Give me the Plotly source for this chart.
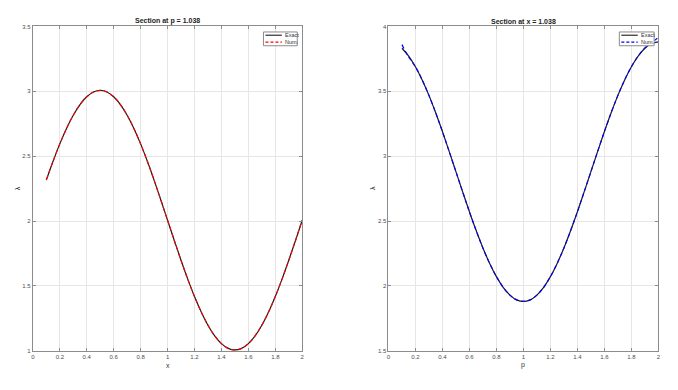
import plotly.graph_objects as go

# ---- data ----
x_vals = [0.10, 0.15, 0.20, 0.25, 0.30, 0.35, 0.40, 0.45, 0.50, 0.55, 0.60, 0.65, 0.70,
          0.75, 0.80, 0.85, 0.90, 0.95, 1.00, 1.05, 1.10, 1.15, 1.20, 1.25, 1.30, 1.35,
          1.40, 1.45, 1.50, 1.55, 1.60, 1.65, 1.70, 1.75, 1.80, 1.85, 1.90, 1.95, 2.00]
lam_x_exact = [2.316, 2.461, 2.595, 2.714, 2.816, 2.898, 2.958, 2.995, 3.007, 2.995, 2.958,
               2.898, 2.816, 2.714, 2.595, 2.461, 2.316, 2.163, 2.007, 1.851, 1.698, 1.553,
               1.419, 1.300, 1.198, 1.116, 1.056, 1.019, 1.007, 1.019, 1.056, 1.116, 1.198,
               1.300, 1.419, 1.553, 1.698, 1.851, 2.007]
lam_x_num = [2.318, 2.461, 2.595, 2.714, 2.816, 2.898, 2.958, 2.995, 3.007, 2.995, 2.958,
             2.898, 2.816, 2.714, 2.595, 2.461, 2.316, 2.163, 2.007, 1.851, 1.698, 1.553,
             1.419, 1.300, 1.198, 1.116, 1.056, 1.019, 1.007, 1.019, 1.056, 1.116, 1.198,
             1.300, 1.419, 1.553, 1.698, 1.851, 2.009]

p_vals = [0.10, 0.15, 0.20, 0.25, 0.30, 0.35, 0.40, 0.45, 0.50, 0.55, 0.60, 0.65, 0.70,
          0.75, 0.80, 0.85, 0.90, 0.95, 1.00, 1.05, 1.10, 1.15, 1.20, 1.25, 1.30, 1.35,
          1.40, 1.45, 1.50, 1.55, 1.60, 1.65, 1.70, 1.75, 1.80, 1.85, 1.90, 1.95, 2.00]
lam_p_exact = [3.832, 3.772, 3.690, 3.588, 3.469, 3.335, 3.190, 3.037, 2.881, 2.725, 2.572,
               2.427, 2.293, 2.174, 2.072, 1.990, 1.930, 1.893, 1.881, 1.893, 1.930, 1.990,
               2.072, 2.174, 2.293, 2.427, 2.572, 2.725, 2.881, 3.037, 3.190, 3.335, 3.469,
               3.588, 3.690, 3.772, 3.832, 3.869, 3.881]
lam_p_num = [3.860, 3.765, 3.690, 3.588, 3.469, 3.335, 3.190, 3.037, 2.881, 2.725, 2.572,
             2.427, 2.293, 2.174, 2.072, 1.990, 1.930, 1.893, 1.881, 1.893, 1.930, 1.990,
             2.072, 2.174, 2.293, 2.427, 2.572, 2.725, 2.881, 3.037, 3.190, 3.335, 3.469,
             3.588, 3.690, 3.772, 3.835, 3.875, 3.915]

x_ticks = [0, 0.2, 0.4, 0.6, 0.8, 1, 1.2, 1.4, 1.6, 1.8, 2]
x_tick_text = ["0", "0.2", "0.4", "0.6", "0.8", "1", "1.2", "1.4", "1.6", "1.8", "2"]
y1_ticks = [1, 1.5, 2, 2.5, 3, 3.5]
y1_tick_text = ["1", "1.5", "2", "2.5", "3", "3.5"]
y2_ticks = [1.5, 2, 2.5, 3, 3.5, 4]
y2_tick_text = ["1.5", "2", "2.5", "3", "3.5", "4"]

titles = ["Section at p = 1.038", "Section at x = 1.038"]
xlabels = ["x", "p"]
legend_names = ["Exact", "Num."]
num_colors = ["red", "blue"]

# page body has an 8px margin; the figure is placed at (8, 8)
OFF = 8
W, H = 670, 382
FONT = "Liberation Sans, Arial, sans-serif"
TICKC = "#4d4d4d"
FRAME = "#8c8c8c"
DASH = "4px,3px"


def xp(px):
    return (px - OFF) / W


def yp(py):
    return 1 - (py - OFF) / H


fig = go.Figure()

fig.add_trace(go.Scatter(x=x_vals, y=lam_x_exact, mode="lines", name=legend_names[0],
                         line=dict(color="#1a1a1a", width=1.2, shape="spline"),
                         xaxis="x", yaxis="y"))
fig.add_trace(go.Scatter(x=x_vals, y=lam_x_num, mode="lines", name=legend_names[1],
                         line=dict(color=num_colors[0], width=1.2, dash=DASH, shape="spline"),
                         xaxis="x", yaxis="y"))
fig.add_trace(go.Scatter(x=p_vals, y=lam_p_exact, mode="lines", name=legend_names[0],
                         line=dict(color="#1a1a1a", width=1.2, shape="spline"),
                         xaxis="x2", yaxis="y2"))
fig.add_trace(go.Scatter(x=p_vals, y=lam_p_num, mode="lines", name=legend_names[1],
                         line=dict(color=num_colors[1], width=1.2, dash=DASH, shape="spline"),
                         xaxis="x2", yaxis="y2"))

dom_y = [yp(353.3), yp(23.7)]
dom_x1 = [xp(31), xp(302)]
dom_x2 = [xp(388.7), xp(660.3)]


def axis_common():
    return dict(showgrid=True, gridcolor="#e6e6e6", gridwidth=1, zeroline=False,
                showline=True, linecolor=FRAME, linewidth=1, mirror="ticks",
                ticks="inside", ticklen=3, tickcolor=FRAME,
                tickfont=dict(size=6, color=TICKC, family=FONT))


fig.update_layout(
    width=W, height=H,
    margin=dict(l=0, r=0, t=0, b=0),
    paper_bgcolor="white", plot_bgcolor="white",
    font=dict(family=FONT),
    showlegend=False,
    xaxis=dict(domain=dom_x1, anchor="y", range=[0, 2], tickvals=x_ticks, ticktext=x_tick_text,
               **axis_common()),
    yaxis=dict(domain=dom_y, anchor="x", range=[1, 3.5], tickvals=y1_ticks, ticktext=y1_tick_text,
               **axis_common()),
    xaxis2=dict(domain=dom_x2, anchor="y2", range=[0, 2], tickvals=x_ticks, ticktext=x_tick_text,
                **axis_common()),
    yaxis2=dict(domain=dom_y, anchor="x2", range=[1.5, 4], tickvals=y2_ticks, ticktext=y2_tick_text,
                **axis_common()),
)

ann = []
shapes = []
for dom, t in zip([dom_x1, dom_x2], titles):
    ann.append(dict(x=(dom[0] + dom[1]) / 2, y=yp(18.5), xref="paper", yref="paper",
                    text="<b>" + t + "</b>", showarrow=False,
                    font=dict(size=7, color="#222222", family=FONT),
                    xanchor="center", yanchor="middle"))
for dom, t in zip([dom_x1, dom_x2], xlabels):
    ann.append(dict(x=(dom[0] + dom[1]) / 2, y=yp(368), xref="paper", yref="paper", text=t,
                    showarrow=False, font=dict(size=7, color="#333333", family=FONT),
                    xanchor="center", yanchor="middle"))
for px in [15, 372]:
    ann.append(dict(x=xp(px), y=yp(188), xref="paper", yref="paper", text="λ",
                    showarrow=False, textangle=-90,
                    font=dict(size=7, color="#333333", family=FONT),
                    xanchor="center", yanchor="middle"))

# legend boxes (MATLAB style)
for (bx0, bx1), col in zip([(263, 297), (621, 656)], num_colors):
    shapes.append(dict(type="rect", xref="paper", yref="paper",
                       x0=xp(bx0), x1=xp(bx1), y0=yp(43.3), y1=yp(29.3),
                       line=dict(color=FRAME, width=1), fillcolor="white", layer="above"))
    for i, (name, c, d) in enumerate(zip(legend_names, ["#1a1a1a", col], ["solid", "3px,2px"])):
        ly = 32.6 + 7 * i
        shapes.append(dict(type="line", xref="paper", yref="paper",
                           x0=xp(bx0 + 2), x1=xp(bx0 + 18.5), y0=yp(ly), y1=yp(ly),
                           line=dict(color=c, width=1.1, dash=d), layer="above"))
        ann.append(dict(x=xp(bx0 + 19.5), y=yp(ly), xref="paper", yref="paper", text=name,
                        showarrow=False, font=dict(size=5.5, color="#333333", family=FONT),
                        xanchor="left", yanchor="middle"))

fig.update_layout(annotations=ann, shapes=shapes)

fig.write_html("out.html")
